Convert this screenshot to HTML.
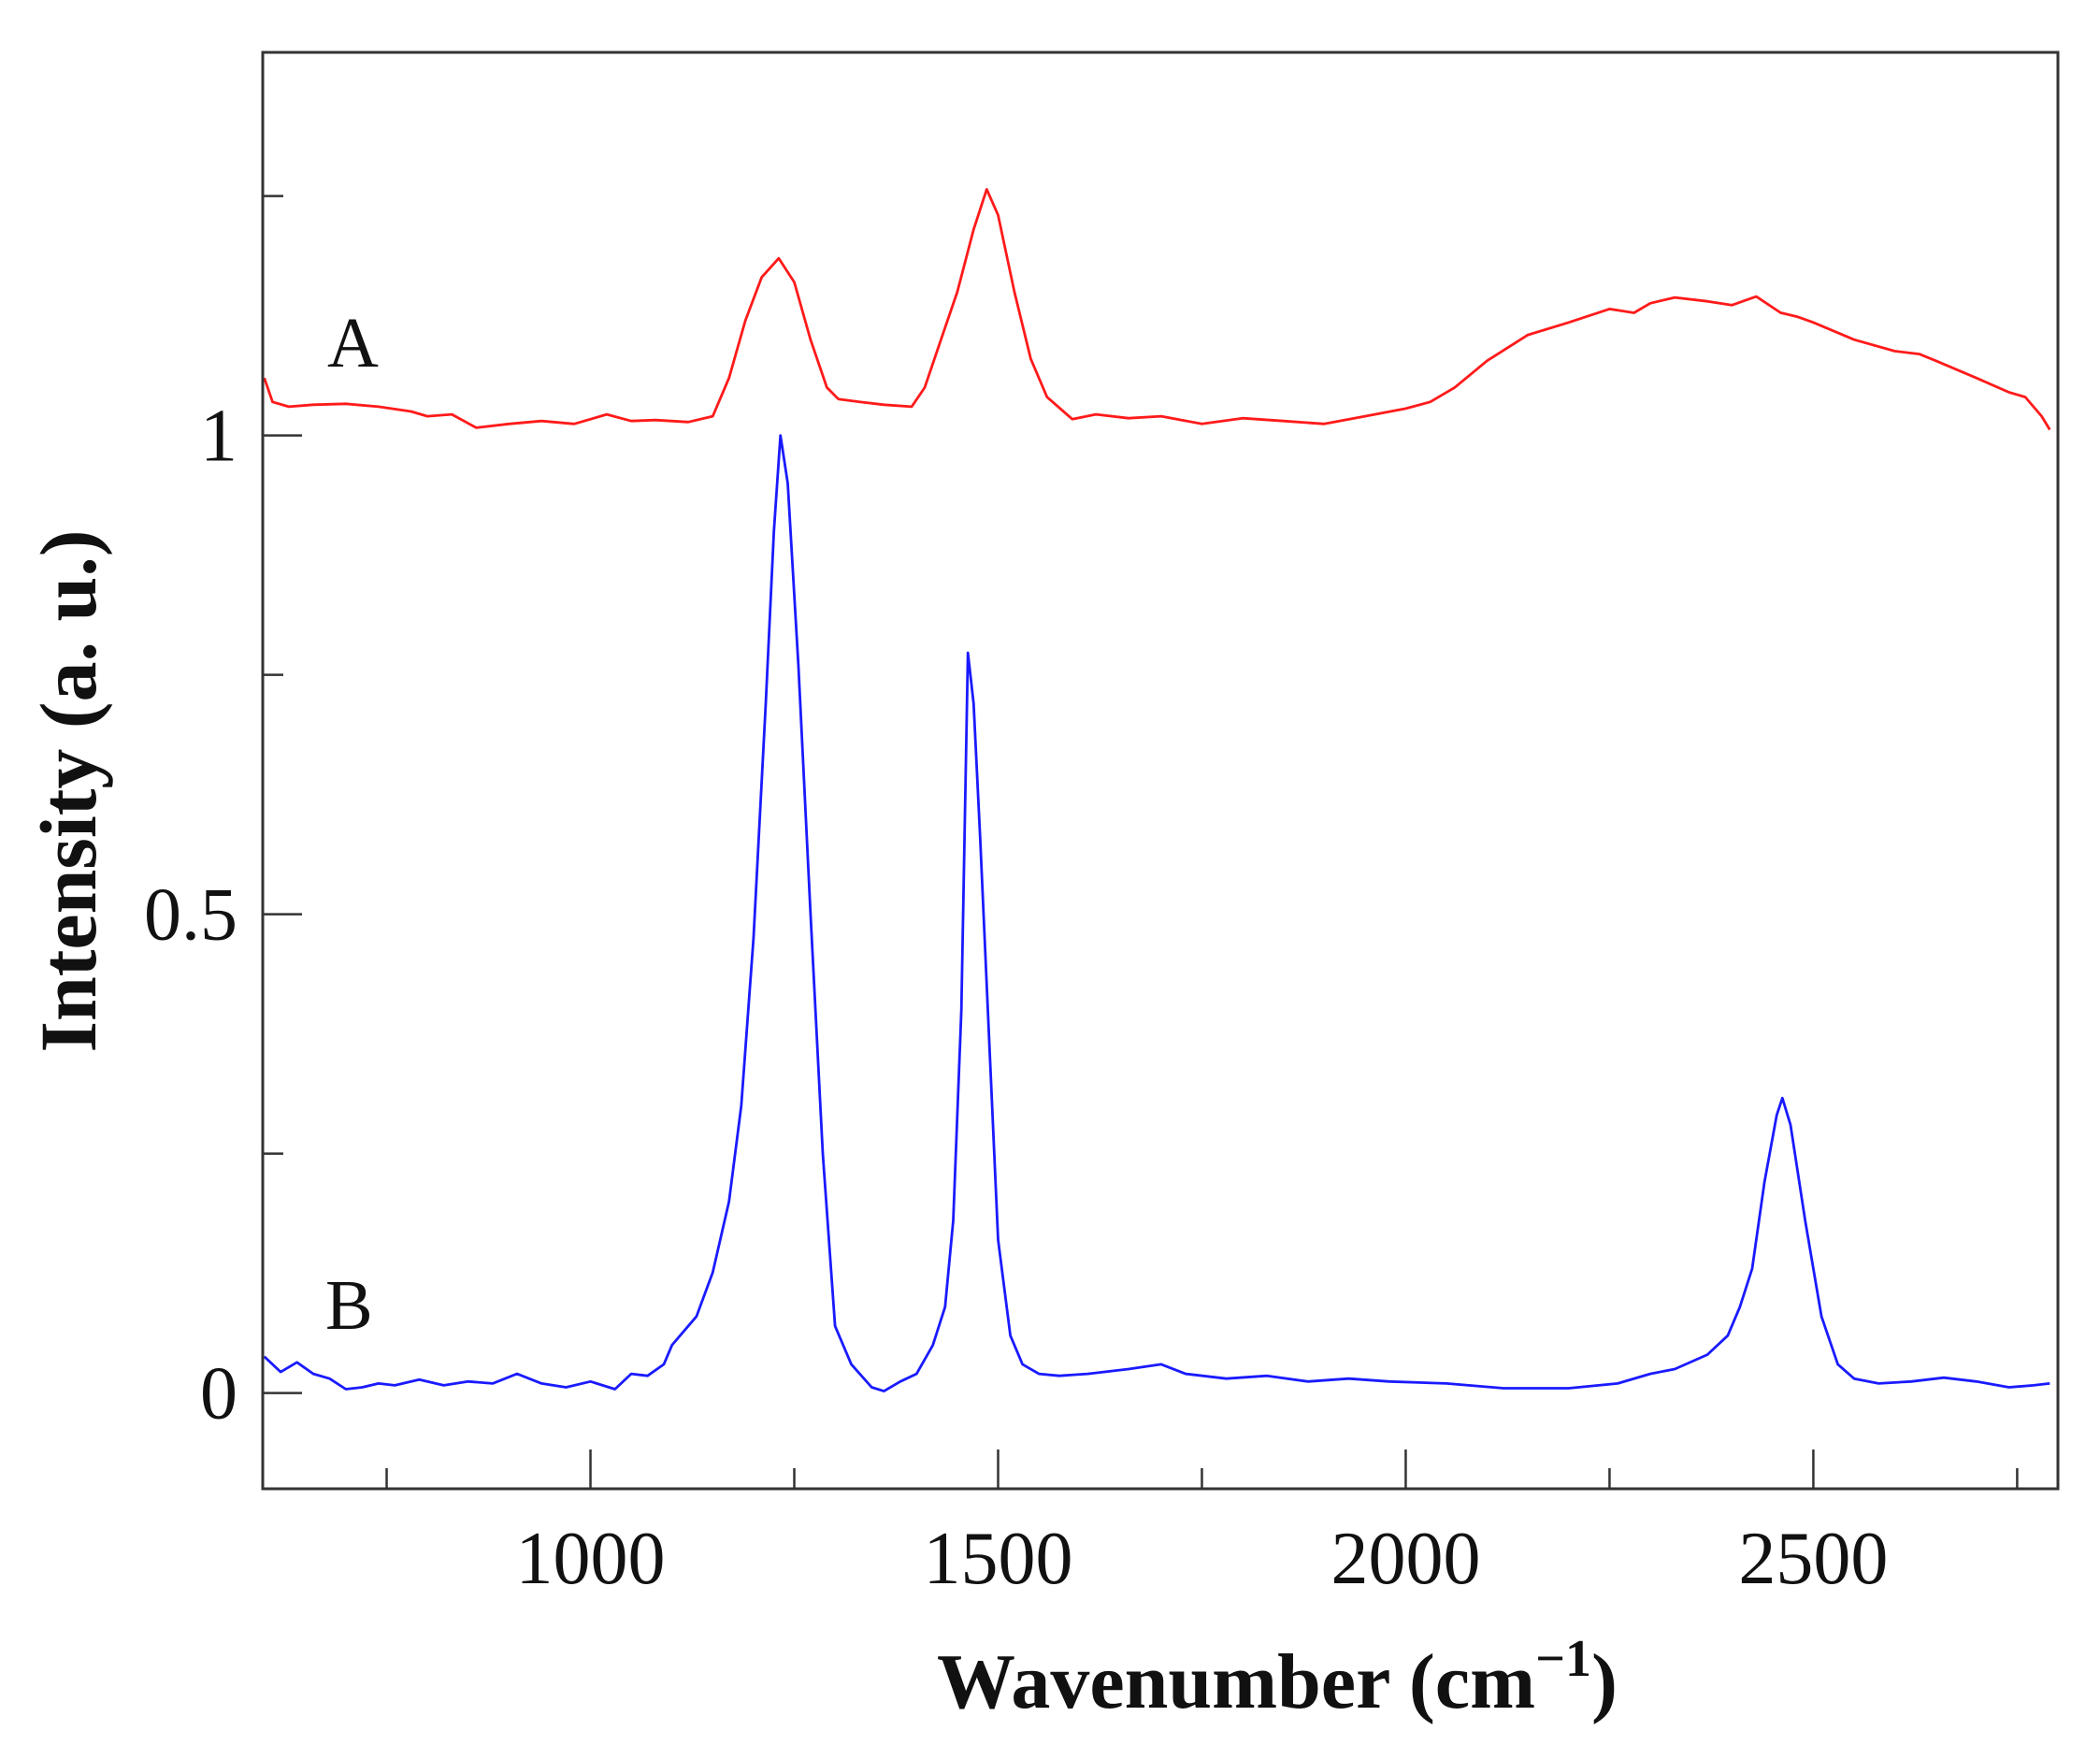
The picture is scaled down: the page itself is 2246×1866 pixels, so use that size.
<!DOCTYPE html>
<html><head><meta charset="utf-8"><style>
html,body{margin:0;padding:0;background:#fff;}
svg{display:block;}
text{font-family:"Liberation Serif",serif;fill:#111;}
</style></head><body>
<svg id="chart" width="2246" height="1866" viewBox="0 0 2246 1866" xmlns="http://www.w3.org/2000/svg">
<g id="ticks"></g>
<path id="lineA" fill="none" stroke="#ff1a1a" stroke-width="2.8" stroke-linejoin="round"/>
<path id="lineB" fill="none" stroke="#1a1aff" stroke-width="2.8" stroke-linejoin="round"/>
<rect x="281" y="56" width="1920" height="1536" fill="none" stroke="#333" stroke-width="3"/>
<text x="350" y="392" font-size="76">A</text>
<text x="348" y="1421" font-size="76">B</text>
<text x="1366" y="1826" font-size="84" font-weight="bold" text-anchor="middle">Wavenumber (cm<tspan dy="-34" font-size="56">−1</tspan><tspan dy="34">)</tspan></text>
<text transform="translate(102,846) rotate(-90)" font-size="86" font-weight="bold" text-anchor="middle">Intensity (a. u.)</text>
</svg>
<script>
const xTickMajor = [1000, 1500, 2000, 2500];
const xTickMinor = [750, 1250, 1750, 2250, 2750];
const yTickMajor = [0, 0.5, 1];
const yTickLabels = ["0", "0.5", "1"];
const yTickMinor = [0.25, 0.75, 1.25];
const wnA = [600,610,630,660,700,740,780,800,830,860,900,940,980,1020,1050,1080,1120,1150,1170,1190,1210,1231,1250,1270,1290,1304,1330,1360,1394,1410,1430,1450,1470,1486,1500,1520,1540,1560,1591,1620,1660,1700,1750,1800,1850,1900,1950,2000,2030,2060,2100,2150,2200,2250,2280,2300,2330,2370,2400,2430,2460,2480,2500,2550,2600,2630,2650,2700,2740,2760,2780,2790];
const valA = [1.06,1.035,1.03,1.032,1.033,1.03,1.025,1.02,1.022,1.008,1.012,1.015,1.012,1.022,1.015,1.016,1.014,1.02,1.06,1.12,1.165,1.185,1.16,1.1,1.05,1.038,1.035,1.032,1.03,1.05,1.1,1.15,1.215,1.257,1.23,1.15,1.08,1.04,1.017,1.022,1.018,1.02,1.012,1.018,1.015,1.012,1.02,1.028,1.035,1.05,1.078,1.105,1.118,1.132,1.128,1.138,1.144,1.14,1.136,1.145,1.128,1.124,1.118,1.1,1.088,1.085,1.078,1.06,1.045,1.04,1.02,1.006];
const wnB = [600,620,640,660,680,700,720,740,760,790,820,850,880,910,940,970,1000,1030,1050,1070,1090,1100,1130,1150,1170,1185,1200,1215,1225,1233,1242,1255,1270,1285,1300,1320,1345,1360,1380,1400,1420,1435,1445,1455,1463,1470,1478,1490,1500,1515,1530,1550,1575,1610,1660,1700,1730,1780,1830,1880,1930,1980,2050,2120,2200,2260,2300,2330,2370,2395,2410,2425,2440,2455,2462,2472,2490,2510,2530,2550,2580,2620,2660,2700,2740,2770,2790];
const valB = [0.038,0.022,0.032,0.02,0.015,0.004,0.006,0.01,0.008,0.014,0.008,0.012,0.01,0.02,0.01,0.006,0.012,0.004,0.02,0.018,0.03,0.05,0.08,0.126,0.2,0.3,0.475,0.72,0.9,1.0,0.95,0.76,0.5,0.25,0.07,0.03,0.006,0.002,0.012,0.02,0.05,0.09,0.18,0.4,0.773,0.72,0.58,0.35,0.16,0.06,0.03,0.02,0.018,0.02,0.025,0.03,0.02,0.015,0.018,0.012,0.015,0.012,0.01,0.005,0.005,0.01,0.02,0.025,0.04,0.06,0.09,0.13,0.22,0.29,0.308,0.28,0.18,0.08,0.03,0.015,0.01,0.012,0.016,0.012,0.006,0.008,0.01];

const X0 = 281, X1 = 2201, Y0 = 1592, Y1 = 56;
const xMin = 598, xMax = 2800, yMin = -0.1, yMax = 1.4;
function xs(v){ return X0 + (v - xMin) / (xMax - xMin) * (X1 - X0); }
function ys(v){ return Y0 - (v - yMin) / (yMax - yMin) * (Y0 - Y1); }
function pathOf(wn, val){
  return wn.map((w,i)=> (i ? 'L' : 'M') + xs(w).toFixed(1) + ',' + ys(val[i]).toFixed(1)).join(' ');
}
document.getElementById('lineA').setAttribute('d', pathOf(wnA, valA));
document.getElementById('lineB').setAttribute('d', pathOf(wnB, valB));

const NS = 'http://www.w3.org/2000/svg';
const g = document.getElementById('ticks');
function line(x1,y1,x2,y2,name){
  const l = document.createElementNS(NS,'line');
  l.setAttribute('x1',x1); l.setAttribute('y1',y1); l.setAttribute('x2',x2); l.setAttribute('y2',y2);
  l.setAttribute('stroke','#333'); l.setAttribute('stroke-width','2.5');
  
  
  g.appendChild(l);
}
function label(x,y,txt,anchor,name){
  const t = document.createElementNS(NS,'text');
  t.setAttribute('x',x); t.setAttribute('y',y); t.setAttribute('font-size','80');
  t.setAttribute('text-anchor',anchor);
  t.textContent = txt;
  
  
  g.appendChild(t);
}
xTickMajor.forEach(v=>{ line(xs(v),Y0,xs(v),Y0-42,'x-tick-major'); label(xs(v),1693,String(v),'middle','x-tick-label'); });
xTickMinor.forEach(v=>{ line(xs(v),Y0,xs(v),Y0-22,'x-tick-minor'); });
yTickMajor.forEach((v,i)=>{ line(X0,ys(v),X0+42,ys(v),'y-tick-major'); label(254,ys(v)+27,yTickLabels[i],'end','y-tick-label'); });
yTickMinor.forEach(v=>{ line(X0,ys(v),X0+22,ys(v),'y-tick-minor'); });
</script>
</body></html>
